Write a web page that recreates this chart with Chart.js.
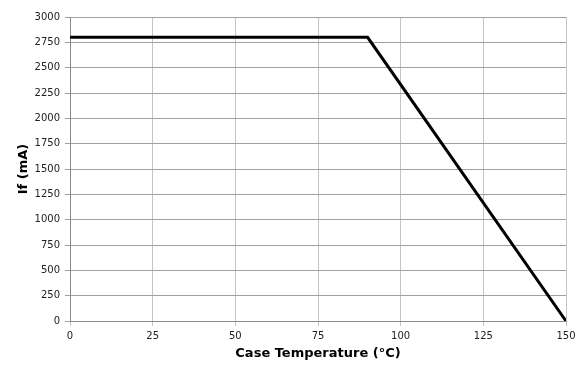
<!DOCTYPE html>
<html>
<head>
<meta charset="utf-8">
<script src="https://cdn.jsdelivr.net/npm/chart.js@4/dist/chart.umd.min.js"></script>
<style>
html,body{margin:0;padding:0;background:#fff;}
#wrap{width:588px;height:375px;position:relative;}
</style>
</head>
<body>
<div id="wrap"><canvas id="c" width="588" height="375"></canvas></div>
<script>
const temperatures = [0, 90, 150];
const currents = [2800, 2800, 0];
const xTicks = [0, 25, 50, 75, 100, 125, 150];
const yTicks = [0, 250, 500, 750, 1000, 1250, 1500, 1750, 2000, 2250, 2500, 2750, 3000];
const xTitle = 'Case Temperature (°C)';
const yTitle = 'If (mA)';

const points = temperatures.map((t, i) => ({x: t, y: currents[i]}));
const tickFont = {family: 'DejaVu Sans', size: 10};
const titleFont = {family: 'DejaVu Sans', size: 13, weight: 'bold'};

new Chart(document.getElementById('c'), {
  type: 'line',
  data: {
    datasets: [{
      data: points,
      borderColor: '#000',
      borderWidth: 3,
      pointRadius: 0,
      tension: 0,
      fill: false
    }]
  },
  options: {
    responsive: false,
    animation: false,
    devicePixelRatio: 1,
    layout: {padding: {left: 0, top: 17, right: 22, bottom: 0}},
    plugins: {legend: {display: false}, tooltip: {enabled: false}},
    scales: {
      x: {
        type: 'linear',
        min: xTicks[0],
        max: xTicks[xTicks.length - 1],
        afterBuildTicks: s => { s.ticks = xTicks.map(v => ({value: v})); },
        afterFit: s => { s.height = 54; },
        grid: {color: '#c4c4c4', lineWidth: 1, tickLength: 5, drawTicks: true},
        border: {color: '#8a8a8a', width: 1},
        ticks: {font: tickFont, color: '#222', padding: 4, maxRotation: 0, callback: v => String(v)},
        title: {display: true, text: xTitle, font: titleFont, color: '#000', padding: {top: 0, bottom: 14}}
      },
      y: {
        type: 'linear',
        min: yTicks[0],
        max: yTicks[yTicks.length - 1],
        afterBuildTicks: s => { s.ticks = yTicks.map(v => ({value: v})); },
        afterFit: s => { s.width = 70; },
        grid: {color: '#a0a0a0', lineWidth: 1, tickLength: 5, drawTicks: true},
        border: {color: '#8a8a8a', width: 1},
        ticks: {font: tickFont, color: '#222', padding: 5, callback: v => String(v)},
        title: {display: true, text: yTitle, font: titleFont, color: '#000', padding: {top: 16, bottom: 0}}
      }
    }
  }
});
</script>
</body>
</html>
